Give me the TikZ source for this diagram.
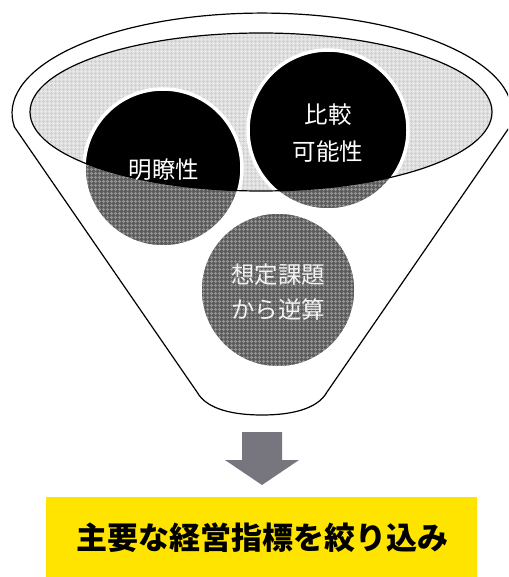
\documentclass[tikz,border=0pt]{standalone}
\usepackage{fontspec}
\setmainfont{Noto Sans CJK JP}
\usetikzlibrary{patterns.meta}
\definecolor{arrowgray}{HTML}{77767F}
\definecolor{boxyellow}{HTML}{FFE400}
\tikzset{
  funnel/.style={draw=black, line width=1.2pt, fill=white},
  lightbase/.style={fill=black!10},
  lightgrid/.style={pattern={Hatch[distance=4pt, line width=0.9pt]}, pattern color=black!19},
  darkbase/.style={fill=black!64},
  darkgrid/.style={pattern={Hatch[distance=4pt, line width=1pt]}, pattern color=black!42},
  ring/.style={draw=white, line width=3.5pt},
  circtext/.style={text=white, font=\fontsize{23.5}{37}\selectfont, align=center},
  fadetext/.style={text=white, text opacity=0.92, font=\fontsize{23.5}{35}\selectfont, align=center},
}
\begin{document}
\begin{tikzpicture}[x=1pt, y=1pt]
\useasboundingbox (0,0) rectangle (508,-577);
\clip (0,0) rectangle (508,-577);
% funnel
\draw[funnel] (14.4,-127) -- (197,-392) .. controls (207,-410) and (235,-415) .. (262,-415)
  .. controls (289,-415) and (317,-410) .. (327,-392) -- (509.6,-127)
  arc[start angle=-8, end angle=188, x radius=250, y radius=100] -- cycle;
% inner ellipse fill
\fill[lightbase] (261,-112) ellipse [x radius=231, y radius=79];
\fill[lightgrid] (261,-112) ellipse [x radius=231, y radius=79];
% circles (dark part)
\foreach \cx/\cy/\r in {163/-168/79, 328/-130/80, 278/-290/78} {
  \fill[darkbase] (\cx,\cy) circle[radius=\r];
  \fill[darkgrid] (\cx,\cy) circle[radius=\r];
}
% black part inside ellipse
\begin{scope}
  \clip (261,-112) ellipse [x radius=231, y radius=79];
  \fill[black] (163,-168) circle[radius=79];
  \fill[black] (328,-130) circle[radius=80];
\end{scope}
% white rings
\draw[ring] (163,-168) circle[radius=79];
\draw[ring] (328,-130) circle[radius=80];
\draw[ring] (278,-290) circle[radius=78];
% ellipse outline on top
\draw[black, line width=1.2pt] (261,-112) ellipse [x radius=231, y radius=79];
% texts
\node[circtext] (clarity) at (164,-170) {明瞭性};
\node[circtext] (compar) at (328,-133) {比較\\可能性};
\node[fadetext] (reverse) at (278,-292) {想定課題\\から逆算};
% arrow
\fill[arrowgray] (242,-432) -- (282,-432) -- (282,-460) -- (299,-460) -- (262,-485)
  -- (225,-460) -- (242,-460) -- cycle;
% yellow box
\node[fill=boxyellow, minimum width=431pt, minimum height=82pt, inner sep=0pt, anchor=north west] (box) at (46,-497) {};
\node[font=\fontsize{31}{36}\selectfont\bfseries, text=black] (result) at (262,-538) {主要な経営指標を絞り込み};
\end{tikzpicture}
\end{document}
